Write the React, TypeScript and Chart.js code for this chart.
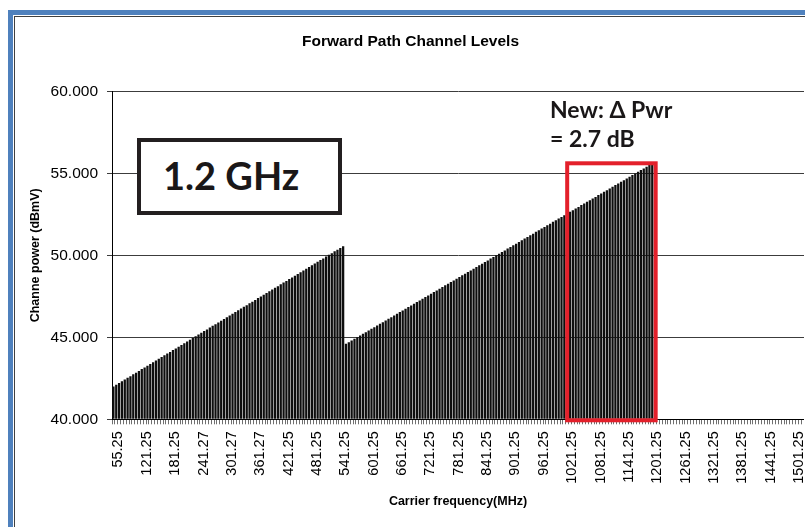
import React, { useEffect, useRef } from 'react';
import { Chart, registerables } from 'chart.js';

Chart.register(...registerables);

// Labelled carrier frequencies (every 10th channel), MHz
const tickLabels = [
  '55.25', '121.25', '181.25', '241.27', '301.27', '361.27', '421.25', '481.25',
  '541.25', '601.25', '661.25', '721.25', '781.25', '841.25', '901.25', '961.25',
  '1021.25', '1081.25', '1141.25', '1201.25', '1261.25', '1321.25', '1381.25',
  '1441.25', '1501.25',
];

const CHANNEL_COUNT = 244;
const CHANNEL_STEP_MHZ = 6;

// Analog carriers (55.25 .. 547.25 MHz), dBmV
const analogLevels = [
  42.00, 42.11, 42.21, 42.32, 42.42, 42.53, 42.63, 42.74, 42.84, 42.95,
  43.06, 43.16, 43.27, 43.37, 43.48, 43.58, 43.69, 43.80, 43.90, 44.01,
  44.11, 44.22, 44.32, 44.43, 44.53, 44.64, 44.75, 44.85, 44.96, 45.06,
  45.17, 45.27, 45.38, 45.48, 45.59, 45.70, 45.80, 45.91, 46.01, 46.12,
  46.22, 46.33, 46.44, 46.54, 46.65, 46.75, 46.86, 46.96, 47.07, 47.17,
  47.28, 47.39, 47.49, 47.60, 47.70, 47.81, 47.91, 48.02, 48.12, 48.23,
  48.34, 48.44, 48.55, 48.65, 48.76, 48.86, 48.97, 49.08, 49.18, 49.29,
  49.39, 49.50, 49.60, 49.71, 49.81, 49.92, 50.03, 50.13, 50.24, 50.34,
  50.45, 50.55,
];

// Digital carriers (553.25 .. ~1200 MHz), dBmV
const digitalLevels = [
  44.60, 44.70, 44.80, 44.91, 45.01, 45.11, 45.21, 45.31, 45.41, 45.52,
  45.62, 45.72, 45.82, 45.92, 46.03, 46.13, 46.23, 46.33, 46.43, 46.54,
  46.64, 46.74, 46.84, 46.94, 47.04, 47.15, 47.25, 47.35, 47.45, 47.55,
  47.66, 47.76, 47.86, 47.96, 48.06, 48.17, 48.27, 48.37, 48.47, 48.57,
  48.67, 48.78, 48.88, 48.98, 49.08, 49.18, 49.29, 49.39, 49.49, 49.59,
  49.69, 49.80, 49.90, 50.00, 50.10, 50.20, 50.30, 50.41, 50.51, 50.61,
  50.71, 50.81, 50.92, 51.02, 51.12, 51.22, 51.32, 51.43, 51.53, 51.63,
  51.73, 51.83, 51.93, 52.04, 52.14, 52.24, 52.34, 52.44, 52.55, 52.65,
  52.75, 52.85, 52.95, 53.06, 53.16, 53.26, 53.36, 53.46, 53.56, 53.67,
  53.77, 53.87, 53.97, 54.07, 54.18, 54.28, 54.38, 54.48, 54.58, 54.69,
  54.79, 54.89, 54.99, 55.09, 55.20, 55.30, 55.40, 55.50, 55.60,
];

const yTicks = [40, 45, 50, 55, 60];

// Red highlight box, in data units (category index / dBmV)
const highlightX = [160.0, 191.2];
const highlightY = [55.61, 39.94];

const categories: string[] = Array.from({ length: CHANNEL_COUNT }, (_, i) => {
  const group = Math.min(Math.floor(i / 10), tickLabels.length - 1);
  const base = parseFloat(tickLabels[group]);
  return (base + CHANNEL_STEP_MHZ * (i - group * 10)).toFixed(2);
});

const levels: (number | null)[] = [
  ...analogLevels,
  ...digitalLevels,
  ...Array(CHANNEL_COUNT - analogLevels.length - digitalLevels.length).fill(null),
];

const FONT = '"Liberation Sans", Arial, sans-serif';

const highlightPlugin = {
  id: 'highlightBox',
  afterDatasetsDraw(chart: any) {
    const xs = chart.scales.x;
    const ys = chart.scales.y;
    const l = xs.getPixelForValue(highlightX[0]);
    const r = xs.getPixelForValue(highlightX[1]);
    const t = ys.getPixelForValue(highlightY[0]);
    const b = ys.getPixelForValue(highlightY[1]);
    const ctx = chart.ctx;
    ctx.save();
    ctx.strokeStyle = '#e3202b';
    ctx.lineWidth = 4;
    ctx.strokeRect(l, t, r - l, b - t);
    ctx.restore();
  },
};

export default function App() {
  const ref = useRef<HTMLCanvasElement>(null);

  useEffect(() => {
    if (!ref.current) return;
    const chart = new Chart(ref.current, {
      type: 'bar',
      data: {
        labels: categories,
        datasets: [
          {
            data: levels,
            backgroundColor: '#0e0e0e',
            borderWidth: 0,
            barPercentage: 0.8,
            categoryPercentage: 1,
            base: 40,
          } as any,
        ],
      },
      options: {
        animation: false,
        responsive: false,
        maintainAspectRatio: false,
        layout: { padding: 0 },
        plugins: {
          legend: { display: false },
          tooltip: { enabled: false },
          title: {
            display: true,
            text: 'Forward Path Channel Levels',
            color: '#000',
            font: { family: FONT, size: 15.5, weight: 'bold' },
            padding: { top: 15.7, bottom: 40 },
          },
        },
        scales: {
          x: {
            offset: true,
            border: { display: true, color: '#000', width: 1 },
            grid: {
              display: true,
              drawOnChartArea: false,
              drawTicks: true,
              tickLength: 5,
              color: '#707070',
            },
            ticks: {
              autoSkip: false,
              minRotation: 90,
              maxRotation: 90,
              padding: 7,
              labelOffset: 5,
              color: '#000',
              font: { family: FONT, size: 14.5 },
              callback: function (this: any, v: any, i: number) {
                return i % 10 === 0 ? tickLabels[i / 10] : '';
              },
            },
            title: {
              display: true,
              text: 'Carrier frequency(MHz)',
              color: '#000',
              font: { family: FONT, size: 12.5, weight: 'bold' },
              padding: { top: 0, bottom: 17.5 },
            },
            afterFit: (s: any) => {
              s.height = 107.7;
              s.paddingLeft = 0;
              s.paddingRight = 0;
            },
          },
          y: {
            min: 40,
            max: 60,
            border: { display: true, color: '#000', width: 1 },
            grid: {
              color: '#3c3c3c',
              lineWidth: 1,
              drawTicks: true,
              tickLength: 5,
            },
            afterBuildTicks: (s: any) => {
              s.ticks = yTicks.map((v) => ({ value: v }));
            },
            ticks: {
              padding: 9,
              color: '#000',
              font: { family: FONT, size: 15.5 },
              callback: (v: any) => Number(v).toFixed(3),
            },
            title: {
              display: true,
              text: 'Channe power (dBmV)',
              color: '#000',
              font: { family: FONT, size: 12.5, weight: 'bold' },
              padding: { top: 11.5, bottom: 0 },
            },
            afterFit: (s: any) => {
              s.width = 95;
            },
          },
        },
      },
      plugins: [highlightPlugin],
    });
    return () => chart.destroy();
  }, []);

  return (
    <div
      style={{
        position: 'fixed',
        left: 0,
        top: 0,
        width: 805,
        height: 527,
        overflow: 'hidden',
        background: '#fff',
      }}
    >
      {/* outer slide frame */}
      <div
        style={{
          position: 'absolute',
          left: 8,
          top: 10,
          width: 900,
          height: 700,
          borderLeft: '5px solid #4f81bd',
          borderTop: '5px solid #4f81bd',
        }}
      />
      <div
        style={{
          position: 'absolute',
          left: 14,
          top: 16,
          width: 900,
          height: 700,
          borderLeft: '1px solid #404040',
          borderTop: '1px solid #404040',
        }}
      />
      <canvas
        ref={ref}
        width={787}
        height={510}
        style={{ position: 'absolute', left: 17, top: 17, width: 787, height: 510 }}
      />
      {/* 1.2 GHz label box */}
      <div
        style={{
          position: 'absolute',
          left: 137,
          top: 138,
          width: 197,
          height: 69,
          border: '4px solid #231f20',
          background: '#fff',
        }}
      />
      <div
        style={{
          position: 'absolute',
          left: 163,
          top: 155,
          fontFamily: 'Lato, "Open Sans", sans-serif',
          fontWeight: 700,
          fontSize: 38,
          lineHeight: '40px',
          color: '#1a1718',
          whiteSpace: 'nowrap',
        }}
      >
        1.2 GHz
      </div>
      <div
        style={{
          position: 'absolute',
          left: 550,
          top: 95,
          fontFamily: 'Lato, "Open Sans", sans-serif',
          fontWeight: 700,
          fontSize: 23,
          lineHeight: '29px',
          color: '#1a1718',
          whiteSpace: 'nowrap',
        }}
      >
        <div>New: Δ Pwr</div>
        <div>= 2.7 dB</div>
      </div>
    </div>
  );
}
